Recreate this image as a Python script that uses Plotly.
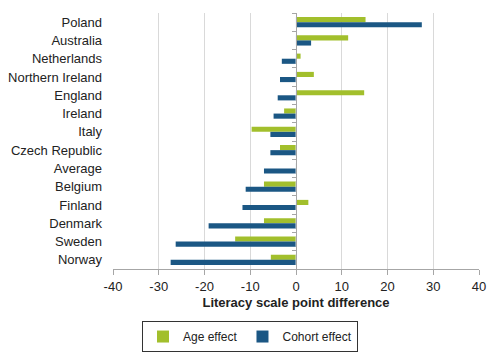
import plotly.graph_objects as go

countries = ["Poland", "Australia", "Netherlands", "Northern Ireland", "England", "Ireland",
             "Italy", "Czech Republic", "Average", "Belgium", "Finland", "Denmark", "Sweden", "Norway"]
age_effect = [15.2, 11.4, 1.0, 3.9, 14.9, -2.6, -9.7, -3.5, 0.0, -7.0, 2.7, -7.0, -13.3, -5.5]
cohort_effect = [27.5, 3.3, -3.1, -3.5, -4.0, -4.9, -5.6, -5.6, -7.0, -11.0, -11.7, -19.1, -26.3, -27.4]
x_ticks = [-40, -30, -20, -10, 0, 10, 20, 30, 40]
x_tick_labels = ["-40", "-30", "-20", "-10", "0", "10", "20", "30", "40"]

GREEN = "#a2bf2c"
BLUE = "#1b5784"
FONT = "Liberation Sans, Arial, sans-serif"

fig = go.Figure()
fig.add_trace(go.Bar(y=countries, x=age_effect, orientation="h", name="Age effect",
                     marker=dict(color=GREEN, line=dict(width=0))))
fig.add_trace(go.Bar(y=countries, x=cohort_effect, orientation="h", name="Cohort effect",
                     marker=dict(color=BLUE, line=dict(width=0))))
# dummy trace for the central category axis with tick marks
fig.add_trace(go.Bar(y=countries, x=[0] * len(countries), orientation="h", yaxis="y2",
                     showlegend=False, hoverinfo="skip", marker=dict(color="rgba(0,0,0,0)")))

fig.update_layout(
    width=500, height=352,
    margin=dict(l=113, r=21, t=13, b=83, autoexpand=False),
    paper_bgcolor="white", plot_bgcolor="white",
    font=dict(family=FONT, size=13, color="#222"),
    barmode="group", bargap=0.44, bargroupgap=0,
    xaxis=dict(range=[-40, 40], tickvals=x_ticks, ticktext=x_tick_labels, showgrid=True,
               gridcolor="#d9d9d9", gridwidth=1, automargin=False,
               zeroline=False, showline=True, linecolor="#a6a6a6", ticks="outside", ticklen=5,
               tickcolor="#a6a6a6", tickfont=dict(size=13, color="#222"),
               title=dict(text="<b>Literacy scale point difference</b>", font=dict(size=13, color="#222"),
                          standoff=5)),
    yaxis=dict(type="category", categoryarray=countries, autorange="reversed", showgrid=False,
               showline=False, zeroline=False, ticks="", ticklabelstandoff=10, automargin=False,
               tickfont=dict(size=13, color="#222")),
    yaxis2=dict(type="category", categoryarray=countries, autorange="reversed", overlaying="y",
                anchor="free", position=0.5, showgrid=False, showticklabels=False, showline=True,
                linecolor="#a6a6a6", ticks="outside", ticklen=4, tickcolor="#a6a6a6",
                tickson="boundaries", zeroline=False, automargin=False),
    legend=dict(orientation="h", xref="container", yref="container", x=0.5, xanchor="center",
                y=0.088, yanchor="top", bordercolor="#333", borderwidth=1,
                font=dict(size=12, color="#222"), traceorder="normal",
                itemwidth=30, tracegroupgap=0),
)

fig.write_html("out.html")
